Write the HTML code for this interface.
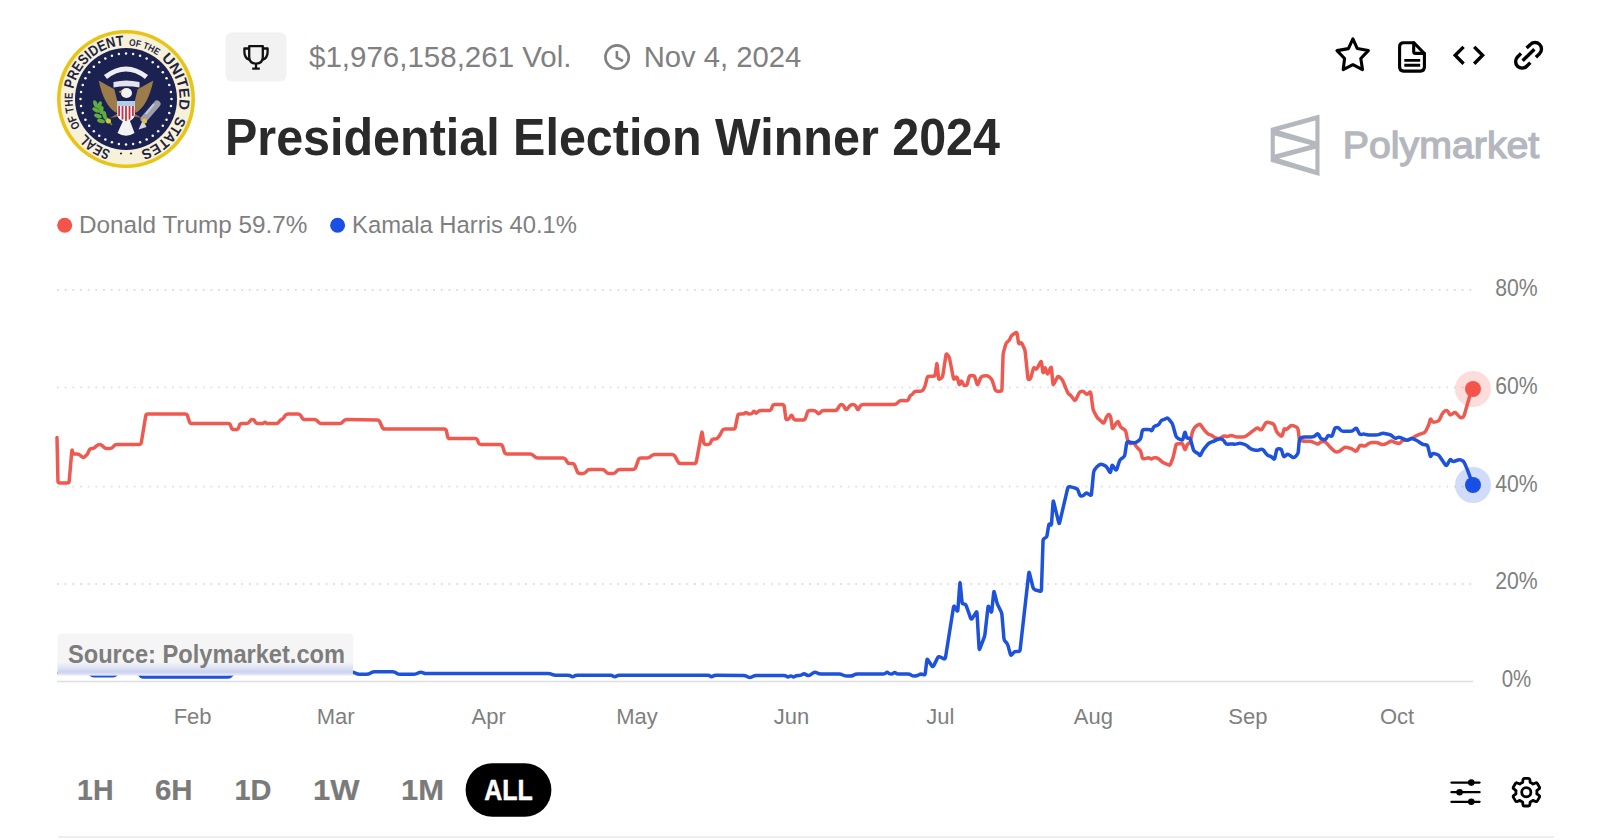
<!DOCTYPE html>
<html><head><meta charset="utf-8"><style>
html,body{margin:0;padding:0;background:#fff;width:1599px;height:840px;overflow:hidden;}
svg{display:block;position:absolute;left:0;top:0;}
text{font-family:"Liberation Sans", sans-serif;}
</style></head><body>
<svg width="1599" height="840" viewBox="0 0 1599 840">
<defs>
<path id="sealPath" d="M 126,45.5 A 53.5,53.5 0 1 1 125.99,45.5"/>
<linearGradient id="band" x1="0" y1="0" x2="0" y2="1"><stop offset="0" stop-color="#c9d1f2" stop-opacity="0"/><stop offset="0.75" stop-color="#c3cbf0" stop-opacity="0.85"/><stop offset="1" stop-color="#dfe4f7" stop-opacity="0.6"/></linearGradient>
<linearGradient id="fadeBlue" x1="0" y1="0" x2="0" y2="1">
<stop offset="0" stop-color="#f5f5f5" stop-opacity="1"/>
<stop offset="0.6" stop-color="#f5f5f5" stop-opacity="1"/>
<stop offset="1" stop-color="#e9ecf7" stop-opacity="0.6"/>
</linearGradient>
</defs>
<!-- seal -->
<g>
<circle cx="126" cy="99" r="69" fill="#e8c414"/>
<circle cx="126" cy="99" r="65.4" fill="#f8f1da"/>
<circle cx="126" cy="99" r="51" fill="#1b2150"/>
<g fill="#ffffff"><circle cx="171.50" cy="99.00" r="1.25"/><circle cx="170.94" cy="106.12" r="1.25"/><circle cx="169.27" cy="113.06" r="1.25"/><circle cx="166.54" cy="119.66" r="1.25"/><circle cx="162.81" cy="125.74" r="1.25"/><circle cx="158.17" cy="131.17" r="1.25"/><circle cx="152.74" cy="135.81" r="1.25"/><circle cx="146.66" cy="139.54" r="1.25"/><circle cx="140.06" cy="142.27" r="1.25"/><circle cx="133.12" cy="143.94" r="1.25"/><circle cx="126.00" cy="144.50" r="1.25"/><circle cx="118.88" cy="143.94" r="1.25"/><circle cx="111.94" cy="142.27" r="1.25"/><circle cx="105.34" cy="139.54" r="1.25"/><circle cx="99.26" cy="135.81" r="1.25"/><circle cx="93.83" cy="131.17" r="1.25"/><circle cx="89.19" cy="125.74" r="1.25"/><circle cx="85.46" cy="119.66" r="1.25"/><circle cx="82.73" cy="113.06" r="1.25"/><circle cx="81.06" cy="106.12" r="1.25"/><circle cx="80.50" cy="99.00" r="1.25"/><circle cx="81.06" cy="91.88" r="1.25"/><circle cx="82.73" cy="84.94" r="1.25"/><circle cx="85.46" cy="78.34" r="1.25"/><circle cx="89.19" cy="72.26" r="1.25"/><circle cx="93.83" cy="66.83" r="1.25"/><circle cx="99.26" cy="62.19" r="1.25"/><circle cx="105.34" cy="58.46" r="1.25"/><circle cx="111.94" cy="55.73" r="1.25"/><circle cx="118.88" cy="54.06" r="1.25"/><circle cx="126.00" cy="53.50" r="1.25"/><circle cx="133.12" cy="54.06" r="1.25"/><circle cx="140.06" cy="55.73" r="1.25"/><circle cx="146.66" cy="58.46" r="1.25"/><circle cx="152.74" cy="62.19" r="1.25"/><circle cx="158.17" cy="66.83" r="1.25"/><circle cx="162.81" cy="72.26" r="1.25"/><circle cx="166.54" cy="78.34" r="1.25"/><circle cx="169.27" cy="84.94" r="1.25"/><circle cx="170.94" cy="91.88" r="1.25"/></g>
<text font-family="Liberation Serif, serif" font-size="14.5" font-weight="bold" fill="#1f2446" textLength="30.8" lengthAdjust="spacingAndGlyphs"><textPath href="#sealPath" startOffset="183.0">SEAL</textPath></text><text font-family="Liberation Serif, serif" font-size="11.5" font-weight="bold" fill="#1f2446" textLength="35.5" lengthAdjust="spacingAndGlyphs"><textPath href="#sealPath" startOffset="222.2">OF THE</textPath></text><text font-family="Liberation Serif, serif" font-size="14.5" font-weight="bold" fill="#1f2446" textLength="71.9" lengthAdjust="spacingAndGlyphs"><textPath href="#sealPath" startOffset="261.5">PRESIDENT</textPath></text><text font-family="Liberation Serif, serif" font-size="9.5" font-weight="bold" fill="#1f2446" textLength="30.8" lengthAdjust="spacingAndGlyphs"><textPath href="#sealPath" startOffset="2.8">OF THE</textPath></text><text font-family="Liberation Serif, serif" font-size="14.5" font-weight="bold" fill="#1f2446" textLength="56.0" lengthAdjust="spacingAndGlyphs"><textPath href="#sealPath" startOffset="38.3">UNITED</textPath></text><text font-family="Liberation Serif, serif" font-size="14.5" font-weight="bold" fill="#1f2446" textLength="52.3" lengthAdjust="spacingAndGlyphs"><textPath href="#sealPath" startOffset="100.8">STATES</textPath></text><circle cx="121" cy="153.5" r="1.1" fill="#1f2446"/><circle cx="131" cy="153.5" r="1.1" fill="#1f2446"/>
<path d="M105.5,77 Q126,61 146.5,77" stroke="#ededf2" stroke-width="5" fill="none"/>
<path d="M113.5,82 Q126,79 139.5,82 L139.5,87.5 Q126,85 113.5,87.5 Z" fill="#e4e4ea"/>
<path d="M98.7,80.5 L114.3,89.3 L118,104 L116.5,113 Q104,106 98.7,80.5 Z" fill="#9c7d4a"/>
<path d="M153.3,80.5 L137.7,89.3 L134,104 L135.5,113 Q148,106 153.3,80.5 Z" fill="#9c7d4a"/>
<path d="M110,118 L120,112 L122,116 Z M142,118 L132,112 L130,116 Z" fill="#8a6c3c"/>
<ellipse cx="126.5" cy="93" rx="5.5" ry="5" fill="#f2f2f2"/>
<path d="M122,90 L118.5,92 L122,93 Z" fill="#e6b82a"/>
<path d="M117.2,101 L134.8,101 L134.8,114 Q134.8,120 126,122.5 Q117.2,120 117.2,114 Z" fill="#f6f6f6"/>
<rect x="117.2" y="101" width="17.6" height="5" fill="#b3cde6"/>
<g fill="#c8324a"><rect x="118.2" y="106" width="1.8" height="10"/><rect x="121.6" y="106" width="1.8" height="13.5"/><rect x="125.1" y="106" width="1.8" height="15.5"/><rect x="128.6" y="106" width="1.8" height="13.5"/><rect x="132" y="106" width="1.8" height="10"/></g>
<path d="M123,121 L130,121 L134.5,133 Q126,138.5 117.5,133 Z" fill="#f3f3f3"/>
<path d="M95,102 Q101,113 112,125" stroke="#4f9a2e" stroke-width="1.6" fill="none"/>
<g fill="#5fae3d"><ellipse cx="95.5" cy="104" rx="4" ry="2" transform="rotate(70 95.5 104)"/><ellipse cx="99.5" cy="105" rx="4" ry="2" transform="rotate(110 99.5 105)"/><ellipse cx="96" cy="110" rx="4" ry="2" transform="rotate(30 96 110)"/><ellipse cx="101.5" cy="110" rx="4" ry="2" transform="rotate(100 101.5 110)"/><ellipse cx="98" cy="116" rx="4" ry="2" transform="rotate(20 98 116)"/><ellipse cx="104.5" cy="115" rx="4" ry="2" transform="rotate(80 104.5 115)"/><ellipse cx="101" cy="121" rx="4" ry="2" transform="rotate(15 101 121)"/><ellipse cx="107" cy="120" rx="3.5" ry="1.8" transform="rotate(60 107 120)"/></g>
<path d="M157,104 L144,119" stroke="#9d9dab" stroke-width="7" stroke-linecap="round" fill="none"/>
<path d="M154,104 L146,114" stroke="#c9c9d3" stroke-width="2" fill="none"/>
<path d="M143,120 L138.5,129.5 L146.5,127 Z" fill="#d6d6dc"/>
<circle cx="108.5" cy="121" r="2.5" fill="#e2c03a"/><circle cx="144.5" cy="121" r="2.5" fill="#e2c03a"/>
</g>

<!-- trophy button -->
<rect x="225.5" y="32.5" width="61" height="49" rx="6" fill="#f2f2f2"/>
<g fill="none" stroke="#111" stroke-width="2.3" stroke-linejoin="round" stroke-linecap="butt">
<path d="M249.2,46.2 H262.8 V57 Q262.8,63.6 256,63.6 Q249.2,63.6 249.2,57 Z"/>
<path d="M249.2,48.5 H244.4 V52 Q244.4,58 249.6,60"/>
<path d="M262.8,48.5 H267.6 V52 Q267.6,58 262.4,60"/>
<path d="M256,63.6 V68.7 M252.2,68.7 H259.8"/>
</g>

<text x="309" y="67.3" font-size="30" fill="#808080" textLength="262.5" lengthAdjust="spacingAndGlyphs">$1,976,158,261 Vol.</text>
<g fill="none" stroke="#808080" stroke-width="2.6"><circle cx="617.1" cy="57.1" r="11.7"/><path d="M616.9,51 V57.5 L622.9,61.2"/></g>
<text x="643.7" y="67.4" font-size="30" fill="#808080" textLength="157.5" lengthAdjust="spacingAndGlyphs">Nov 4, 2024</text>

<text x="225" y="154.8" font-size="52" font-weight="bold" fill="#2a2a2a" textLength="775" lengthAdjust="spacingAndGlyphs">Presidential Election Winner 2024</text>

<!-- top right icons -->
<g fill="none" stroke="#000" stroke-width="3.1" stroke-linejoin="round" stroke-linecap="round">
<path d="M1352.9,38.9 L1357.3,48.6 L1368.3,50.6 L1360.8,58.5 L1362.5,69.6 L1352.9,64.7 L1343.2,69.6 L1344.6,58.5 L1337,50.6 L1348.4,48.6 Z"/>
<path d="M1413.7,42.7 H1403.6 Q1399.6,42.7 1399.6,46.7 V67.1 Q1399.6,71.1 1403.6,71.1 H1420.4 Q1424.4,71.1 1424.4,67.1 V53.5 Z"/>
<path d="M1413.7,42.7 V51.4 Q1413.7,53.4 1415.7,53.4 H1424.4"/>
</g>
<g stroke="#000" stroke-width="2.9"><path d="M1404.3,60.4 H1420.2 M1404.3,65.2 H1420.2"/></g>
<g fill="none" stroke="#000" stroke-width="3.4" stroke-linecap="butt" stroke-linejoin="miter">
<path d="M1463.6,46.9 L1455.2,55.3 L1463.6,63.7"/>
<path d="M1474.2,46.9 L1482.6,55.3 L1474.2,63.7"/>
<path d="M1526.6,47.9 L1530.4,44.4 A6.5,6.5 0 0 1 1539.6,53.6 L1535.9,57.3"/>
<path d="M1530.3,62.6 L1526.7,66.2 A6.5,6.5 0 0 1 1517.5,57 L1521,53.4"/>
<path d="M1522.6,60.8 L1534.4,49.3"/>
</g>

<!-- polymarket logo -->
<path fill="#b5b7be" fill-rule="evenodd" d="M1270.7,128 L1319.5,114.5 L1319.5,176 L1270.7,161.8 Z M1279,130.6 L1315.4,120.5 L1315.4,141.2 Z M1274.8,135.5 L1310.5,145 L1274.8,154.5 Z M1279,158.6 L1315.4,148.8 L1315.4,169.8 Z"/>
<text x="1342.8" y="158" font-size="37" fill="#b5b7be" stroke="#b5b7be" stroke-width="1.3" textLength="196.5" lengthAdjust="spacingAndGlyphs">Polymarket</text>

<!-- legend -->
<circle cx="64.7" cy="225.3" r="7.5" fill="#f5544a"/>
<text x="79" y="233.4" font-size="24.5" fill="#7f7f7f" textLength="228.5" lengthAdjust="spacingAndGlyphs">Donald Trump 59.7%</text>
<circle cx="337.6" cy="225.3" r="7.5" fill="#1a4fe6"/>
<text x="352" y="233.4" font-size="24.5" fill="#7f7f7f" textLength="225" lengthAdjust="spacingAndGlyphs">Kamala Harris 40.1%</text>

<!-- grid -->
<line x1="57" y1="290" x2="1472" y2="290" stroke="#e0e0e0" stroke-width="1.8" stroke-dasharray="1.8 5.876"/><line x1="57" y1="387.4" x2="1472" y2="387.4" stroke="#e0e0e0" stroke-width="1.8" stroke-dasharray="1.8 5.876"/><line x1="57" y1="486.6" x2="1472" y2="486.6" stroke="#e0e0e0" stroke-width="1.8" stroke-dasharray="1.8 5.876"/><line x1="57" y1="584" x2="1472" y2="584" stroke="#e0e0e0" stroke-width="1.8" stroke-dasharray="1.8 5.876"/>
<line x1="57" y1="681.5" x2="1473" y2="681.5" stroke="#dedede" stroke-width="1.6"/>

<!-- y labels -->
<g font-size="23" fill="#7f7f7f" text-anchor="middle" lengthAdjust="spacingAndGlyphs">
<text x="1516.5" y="296" textLength="42.5" lengthAdjust="spacingAndGlyphs">80%</text>
<text x="1516.5" y="393.75" textLength="42.5" lengthAdjust="spacingAndGlyphs">60%</text>
<text x="1516.5" y="491.5" textLength="42.5" lengthAdjust="spacingAndGlyphs">40%</text>
<text x="1516.5" y="589.25" textLength="42.5" lengthAdjust="spacingAndGlyphs">20%</text>
<text x="1516.5" y="687.2" textLength="29.5" lengthAdjust="spacingAndGlyphs">0%</text>
</g>

<!-- lines -->
<path d="M57.0,437.6 L57.96,481.00 Q58.00,483.00 60.00,483.00 L67.00,483.00 Q69.00,483.00 69.18,481.01 L71.82,450.99 Q72.00,449.00 72.39,450.96 L72.61,452.04 Q73.00,454.00 75.00,454.00 L77.00,454.00 Q79.00,454.00 80.41,455.41 L81.59,456.59 Q83.00,458.00 84.60,456.80 L85.40,456.20 Q87.00,455.00 87.83,453.18 L89.17,450.22 Q90.00,448.40 92.00,448.40 L92.00,448.40 Q94.00,448.40 95.41,446.99 L96.59,445.81 Q98.00,444.40 99.50,444.40 L99.50,444.40 Q101.00,444.40 102.41,445.81 L103.59,446.99 Q105.00,448.40 107.00,448.40 L110.00,448.40 Q112.00,448.40 113.20,446.80 L113.80,446.00 Q115.00,444.40 117.00,444.40 L139.00,444.40 Q141.00,444.40 141.32,442.43 L145.68,415.97 Q146.00,414.00 148.00,414.00 L185.00,414.00 Q187.00,414.00 187.60,415.91 L189.40,421.69 Q190.00,423.60 192.00,423.60 L228.00,423.60 Q230.00,423.60 230.63,425.50 L231.37,427.70 Q232.00,429.60 234.00,429.60 L236.00,429.60 Q238.00,429.60 238.63,427.70 L239.37,425.50 Q240.00,423.60 242.00,423.60 L246.00,423.60 Q248.00,423.60 249.20,422.00 L249.80,421.20 Q251.00,419.60 252.50,419.60 L252.50,419.60 Q254.00,419.60 254.89,421.39 L255.11,421.81 Q256.00,423.60 258.00,423.60 L261.00,423.60 Q263.00,423.60 264.00,422.80 L264.00,422.80 Q265.00,422.00 266.00,422.80 L266.00,422.80 Q267.00,423.60 269.00,423.60 L276.00,423.60 Q278.00,423.60 278.97,421.85 L279.03,421.75 Q280.00,420.00 281.50,419.50 L281.50,419.50 Q283.00,419.00 284.03,417.29 L284.97,415.71 Q286.00,414.00 288.00,414.00 L298.00,414.00 Q300.00,414.00 300.94,415.76 L302.06,417.84 Q303.00,419.60 305.00,419.60 L314.00,419.60 Q316.00,419.60 317.41,421.01 L318.59,422.19 Q320.00,423.60 322.00,423.60 L339.00,423.60 Q341.00,423.60 342.41,422.19 L343.59,421.01 Q345.00,419.60 347.00,419.62 L377.00,419.98 Q379.00,420.00 379.81,421.83 L382.19,427.17 Q383.00,429.00 385.00,429.00 L444.00,429.00 Q446.00,429.00 446.41,430.96 L447.59,436.64 Q448.00,438.60 450.00,438.60 L475.00,438.60 Q477.00,438.60 477.65,440.49 L478.35,442.51 Q479.00,444.40 481.00,444.40 L500.00,444.40 Q502.00,444.40 502.60,446.31 L504.40,452.09 Q505.00,454.00 507.00,454.00 L530.00,454.00 Q532.00,454.00 533.41,455.41 L534.59,456.59 Q536.00,458.00 538.00,458.00 L563.00,458.00 Q565.00,458.00 565.94,459.76 L567.06,461.84 Q568.00,463.60 570.00,463.60 L572.00,463.60 Q574.00,463.60 574.76,465.45 L577.24,471.55 Q578.00,473.40 580.00,473.40 L583.00,473.40 Q585.00,473.40 586.20,471.80 L586.80,471.00 Q588.00,469.40 590.00,469.40 L602.00,469.40 Q604.00,469.40 605.20,471.00 L605.80,471.80 Q607.00,473.40 609.00,473.40 L613.00,473.40 Q615.00,473.40 616.20,471.80 L616.80,471.00 Q618.00,469.40 620.00,469.40 L633.00,469.40 Q635.00,469.40 635.66,467.51 L638.34,459.89 Q639.00,458.00 641.00,458.00 L647.00,458.00 Q649.00,458.00 650.49,456.66 L651.51,455.74 Q653.00,454.40 655.00,454.40 L672.00,454.40 Q674.00,454.40 674.96,456.16 L678.04,461.84 Q679.00,463.60 681.00,463.60 L694.00,463.60 Q696.00,463.60 696.36,461.63 L701.64,432.97 Q702.00,431.00 702.30,432.98 L703.70,442.42 Q704.00,444.40 706.00,444.40 L708.00,444.40 Q710.00,444.40 710.69,442.52 L711.31,440.88 Q712.00,439.00 714.00,439.00 L715.00,439.00 Q717.00,439.00 718.20,437.40 L718.80,436.60 Q720.00,435.00 720.89,433.21 L722.11,430.79 Q723.00,429.00 725.00,429.00 L733.00,429.00 Q735.00,429.00 735.39,427.04 L737.61,415.96 Q738.00,414.00 740.00,414.00 L742.00,414.00 Q744.00,414.00 745.00,413.00 L745.00,413.00 Q746.00,412.00 747.00,413.00 L747.00,413.00 Q748.00,414.00 750.00,414.00 L750.00,414.00 Q752.00,414.00 752.97,412.25 L753.03,412.15 Q754.00,410.40 754.97,412.15 L755.03,412.25 Q756.00,414.00 757.28,412.46 L757.72,411.94 Q759.00,410.40 761.00,410.40 L769.00,410.40 Q771.00,410.40 771.63,408.50 L772.37,406.30 Q773.00,404.40 775.00,404.40 L782.00,404.40 Q784.00,404.40 784.25,406.38 L785.75,418.02 Q786.00,420.00 787.50,419.50 L787.50,419.50 Q789.00,419.00 789.98,417.26 L790.62,416.14 Q791.60,414.40 792.39,416.24 L793.21,418.16 Q794.00,420.00 796.00,420.00 L803.00,420.00 Q805.00,420.00 805.60,418.09 L807.40,412.31 Q808.00,410.40 810.00,410.40 L813.00,410.40 Q815.00,410.40 816.41,411.81 L817.59,412.99 Q819.00,414.40 820.20,412.80 L820.80,412.00 Q822.00,410.40 824.00,410.40 L835.00,410.40 Q837.00,410.40 837.89,408.61 L839.11,406.19 Q840.00,404.40 841.50,404.40 L841.50,404.40 Q843.00,404.40 843.89,406.19 L845.11,408.61 Q846.00,410.40 847.28,408.86 L849.72,405.94 Q851.00,404.40 853.00,404.40 L853.00,404.40 Q855.00,404.40 855.89,406.19 L857.11,408.61 Q858.00,410.40 858.89,408.61 L860.11,406.19 Q861.00,404.40 863.00,404.40 L894.00,404.40 Q896.00,404.40 897.41,402.99 L898.59,401.81 Q900.00,400.40 902.00,400.50 L906.00,400.70 Q908.00,400.80 908.72,398.93 L909.28,397.47 Q910.00,395.60 911.25,395.00 L911.25,395.00 Q912.50,394.40 913.45,392.82 L913.45,392.82 Q914.40,391.25 916.40,391.25 L920.50,391.25 Q922.50,391.25 923.39,389.46 L924.11,388.04 Q925.00,386.25 925.49,384.31 L927.01,378.19 Q927.50,376.25 929.50,376.25 L933.00,376.25 Q935.00,376.25 935.27,374.27 L936.63,364.48 Q936.90,362.50 937.11,364.49 L938.54,378.01 Q938.75,380.00 940.41,378.89 L940.84,378.61 Q942.50,377.50 942.80,375.52 L945.95,354.98 Q946.25,353.00 947.40,354.64 L948.25,355.86 Q949.40,357.50 949.78,359.46 L953.37,378.04 Q953.75,380.00 955.04,378.47 L955.61,377.78 Q956.90,376.25 957.42,378.18 L958.88,383.67 Q959.40,385.60 960.03,383.70 L960.62,381.90 Q961.25,380.00 962.07,381.83 L962.93,383.77 Q963.75,385.60 965.33,385.60 L965.33,385.60 Q966.90,385.60 967.39,383.66 L968.91,377.54 Q969.40,375.60 971.40,375.60 L972.40,375.60 Q974.40,375.60 974.99,377.51 L976.91,383.69 Q977.50,385.60 978.24,383.74 L980.51,378.11 Q981.25,376.25 983.24,376.06 L986.01,375.79 Q988.00,375.60 989.43,377.00 L990.47,378.00 Q991.90,379.40 992.50,381.31 L995.00,389.34 Q995.60,391.25 997.60,391.25 L999.90,391.25 Q1001.90,391.25 1001.96,389.25 L1003.04,355.75 Q1003.10,353.75 1003.64,351.82 L1005.71,344.43 Q1006.25,342.50 1007.83,341.55 L1007.83,341.55 Q1009.40,340.60 1010.09,338.72 L1010.56,337.48 Q1011.25,335.60 1012.92,334.50 L1015.23,333.00 Q1016.90,331.90 1017.19,333.88 L1018.46,342.42 Q1018.75,344.40 1020.00,343.15 L1020.00,343.15 Q1021.25,341.90 1022.09,343.71 L1024.16,348.19 Q1025.00,350.00 1025.21,351.99 L1027.89,378.01 Q1028.10,380.00 1029.35,379.38 L1029.35,379.38 Q1030.60,378.75 1031.11,376.82 L1033.24,368.83 Q1033.75,366.90 1035.00,368.45 L1035.00,368.45 Q1036.25,370.00 1037.19,368.23 L1040.31,362.37 Q1041.25,360.60 1041.53,362.58 L1042.82,371.77 Q1043.10,373.75 1043.63,371.82 L1044.47,368.83 Q1045.00,366.90 1045.59,368.81 L1046.91,373.09 Q1047.50,375.00 1048.21,373.13 L1048.69,371.87 Q1049.40,370.00 1050.28,368.21 L1050.37,368.04 Q1051.25,366.25 1051.44,368.24 L1052.91,383.61 Q1053.10,385.60 1053.99,383.81 L1057.21,377.39 Q1058.10,375.60 1059.51,377.01 L1061.09,378.59 Q1062.50,380.00 1063.25,381.85 L1067.35,391.90 Q1068.10,393.75 1069.35,394.38 L1069.35,394.38 Q1070.60,395.00 1071.75,396.64 L1073.85,399.61 Q1075.00,401.25 1075.89,399.46 L1079.11,393.04 Q1080.00,391.25 1081.88,391.25 L1081.88,391.25 Q1083.75,391.25 1085.04,392.78 L1085.61,393.47 Q1086.90,395.00 1088.30,393.58 L1089.20,392.67 Q1090.60,391.25 1090.86,393.23 L1092.84,408.02 Q1093.10,410.00 1094.05,411.76 L1096.55,416.34 Q1097.50,418.10 1099.03,419.39 L1099.72,419.96 Q1101.25,421.25 1102.50,422.50 L1102.50,422.50 Q1103.75,423.75 1104.49,421.89 L1105.51,419.36 Q1106.25,417.50 1107.36,415.84 L1107.64,415.41 Q1108.75,413.75 1109.67,415.00 L1109.67,415.00 Q1110.60,416.25 1110.89,418.23 L1112.21,427.42 Q1112.50,429.40 1113.49,427.66 L1114.01,426.74 Q1115.00,425.00 1116.15,423.37 L1116.95,422.23 Q1118.10,420.60 1118.78,422.48 L1119.92,425.62 Q1120.60,427.50 1122.39,428.39 L1123.81,429.11 Q1125.60,430.00 1125.97,431.96 L1127.13,438.04 Q1127.50,440.00 1128.49,441.74 L1129.01,442.66 Q1130.00,444.40 1131.55,443.15 L1131.55,443.15 Q1133.10,441.90 1134.26,443.53 L1136.34,446.47 Q1137.50,448.10 1139.05,449.35 L1139.05,449.35 Q1140.60,450.60 1141.05,452.55 L1142.05,456.80 Q1142.50,458.75 1143.75,458.75 L1143.75,458.75 Q1145.00,458.75 1146.88,458.12 L1146.88,458.12 Q1148.75,457.50 1150.00,458.45 L1150.00,458.45 Q1151.25,459.40 1152.50,458.45 L1152.50,458.45 Q1153.75,457.50 1155.73,457.77 L1156.12,457.83 Q1158.10,458.10 1159.51,459.51 L1161.09,461.09 Q1162.50,462.50 1164.37,463.21 L1165.63,463.69 Q1167.50,464.40 1168.75,465.00 L1168.75,465.00 Q1170.00,465.60 1170.71,463.73 L1172.39,459.37 Q1173.10,457.50 1173.55,455.55 L1175.80,445.70 Q1176.25,443.75 1178.12,443.75 L1178.12,443.75 Q1180.00,443.75 1181.25,443.43 L1181.25,443.43 Q1182.50,443.10 1183.13,445.00 L1184.37,448.70 Q1185.00,450.60 1185.69,448.72 L1186.81,445.63 Q1187.50,443.75 1188.75,443.43 L1188.75,443.43 Q1190.00,443.10 1190.41,441.14 L1192.09,433.21 Q1192.50,431.25 1193.50,429.52 L1194.00,428.63 Q1195.00,426.90 1196.69,425.83 L1198.31,424.82 Q1200.00,423.75 1201.11,425.42 L1202.64,427.73 Q1203.75,429.40 1205.06,430.91 L1206.79,432.89 Q1208.10,434.40 1210.00,434.70 L1210.00,434.70 Q1211.90,435.00 1213.31,436.41 L1213.59,436.69 Q1215.00,438.10 1216.98,438.36 L1218.02,438.49 Q1220.00,438.75 1221.53,437.46 L1222.22,436.89 Q1223.75,435.60 1225.62,436.25 L1225.62,436.25 Q1227.50,436.90 1229.28,436.00 L1229.47,435.90 Q1231.25,435.00 1233.03,435.90 L1233.22,436.00 Q1235.00,436.90 1237.00,436.90 L1243.00,436.90 Q1245.00,436.90 1246.59,435.69 L1248.41,434.31 Q1250.00,433.10 1251.60,431.90 L1255.90,428.70 Q1257.50,427.50 1259.04,428.77 L1259.71,429.33 Q1261.25,430.60 1262.25,428.87 L1265.25,423.63 Q1266.25,421.90 1268.19,422.38 L1271.81,423.27 Q1273.75,423.75 1274.43,425.63 L1276.22,430.62 Q1276.90,432.50 1278.40,433.82 L1280.40,435.58 Q1281.90,436.90 1282.45,434.98 L1283.85,430.02 Q1284.40,428.10 1285.33,429.05 L1285.33,429.05 Q1286.25,430.00 1287.66,428.59 L1289.84,426.41 Q1291.25,425.00 1293.12,425.71 L1294.38,426.19 Q1296.25,426.90 1297.17,427.82 L1297.17,427.82 Q1298.10,428.75 1298.33,430.74 L1299.17,438.01 Q1299.40,440.00 1301.32,440.55 L1301.83,440.70 Q1303.75,441.25 1305.75,441.25 L1309.25,441.25 Q1311.25,441.25 1313.04,442.13 L1313.21,442.22 Q1315.00,443.10 1316.88,443.75 L1316.88,443.75 Q1318.75,444.40 1319.38,443.15 L1319.38,443.15 Q1320.00,441.90 1321.98,441.64 L1323.02,441.51 Q1325.00,441.25 1326.27,442.79 L1326.83,443.46 Q1328.10,445.00 1329.51,446.41 L1333.59,450.49 Q1335.00,451.90 1336.88,451.90 L1336.88,451.90 Q1338.75,451.90 1340.31,450.65 L1343.44,448.15 Q1345.00,446.90 1346.93,447.42 L1349.97,448.23 Q1351.90,448.75 1353.52,449.92 L1354.63,450.73 Q1356.25,451.90 1357.21,450.14 L1359.04,446.76 Q1360.00,445.00 1361.94,445.49 L1363.06,445.76 Q1365.00,446.25 1366.60,445.05 L1368.40,443.70 Q1370.00,442.50 1372.00,442.50 L1375.50,442.50 Q1377.50,442.50 1379.29,443.39 L1380.71,444.11 Q1382.50,445.00 1384.37,444.29 L1385.63,443.81 Q1387.50,443.10 1389.16,441.99 L1389.59,441.71 Q1391.25,440.60 1393.03,441.50 L1393.22,441.60 Q1395.00,442.50 1396.94,442.99 L1398.06,443.26 Q1400.00,443.75 1400.95,442.18 L1400.95,442.18 Q1401.90,440.60 1403.88,440.31 L1408.02,439.69 Q1410.00,439.40 1411.73,438.39 L1415.77,436.01 Q1417.50,435.00 1419.40,434.37 L1423.10,433.13 Q1425.00,432.50 1425.89,430.71 L1427.86,426.79 Q1428.75,425.00 1429.27,423.07 L1430.08,420.03 Q1430.60,418.10 1431.39,419.94 L1431.71,420.66 Q1432.50,422.50 1434.46,422.11 L1436.79,421.64 Q1438.75,421.25 1439.59,419.43 L1441.66,414.92 Q1442.50,413.10 1443.91,411.69 L1444.19,411.41 Q1445.60,410.00 1446.85,410.62 L1446.85,410.62 Q1448.10,411.25 1448.90,413.08 L1449.20,413.77 Q1450.00,415.60 1451.61,414.41 L1453.39,413.09 Q1455.00,411.90 1456.34,413.38 L1459.26,416.62 Q1460.60,418.10 1462.17,417.50 L1462.17,417.50 Q1463.75,416.90 1464.30,414.98 L1469.45,396.92 Q1470.00,395.00 1470.89,393.21 L1473.0,389.0" fill="none" stroke="#ee5a50" stroke-width="3.5" stroke-linejoin="round" stroke-linecap="round"/>
<path d="M59.0,673.0 L88.00,673.00 Q90.00,673.00 91.00,674.40 L91.00,674.40 Q92.00,675.80 94.00,675.80 L113.00,675.80 Q115.00,675.80 116.00,674.40 L116.00,674.40 Q117.00,673.00 119.00,673.00 L137.00,673.00 Q139.00,673.00 139.89,674.79 L140.11,675.21 Q141.00,677.00 143.00,677.00 L228.00,677.00 Q230.00,677.00 231.20,675.40 L231.80,674.60 Q233.00,673.00 235.00,672.99 L352.00,672.21 Q354.00,672.20 355.71,673.23 L355.79,673.27 Q357.50,674.30 359.50,674.30 L366.60,674.30 Q368.60,674.30 370.31,673.26 L370.99,672.84 Q372.70,671.80 374.70,671.80 L392.70,671.80 Q394.70,671.80 396.31,672.98 L396.49,673.12 Q398.10,674.30 400.10,674.30 L413.30,674.30 Q415.30,674.30 417.12,673.47 L418.98,672.63 Q420.80,671.80 422.64,672.59 L423.16,672.81 Q425.00,673.60 427.00,673.60 L548.00,673.40 Q550.00,673.40 551.79,674.29 L552.01,674.41 Q553.80,675.30 555.80,675.30 L567.80,675.30 Q569.80,675.30 571.20,676.25 L571.20,676.25 Q572.60,677.20 574.00,676.25 L574.00,676.25 Q575.40,675.30 577.40,675.30 L610.00,675.30 Q612.00,675.30 613.40,676.25 L613.40,676.25 Q614.80,677.20 616.20,676.25 L616.20,676.25 Q617.60,675.30 619.60,675.30 L707.50,675.30 Q709.50,675.30 710.45,676.25 L710.45,676.25 Q711.40,677.20 712.80,676.25 L712.80,676.25 Q714.20,675.30 716.20,675.31 L743.40,675.39 Q745.40,675.40 746.80,676.45 L746.80,676.45 Q748.20,677.50 749.90,677.50 L749.90,677.50 Q751.60,677.50 753.00,676.45 L753.00,676.45 Q754.40,675.40 756.40,675.40 L783.30,675.40 Q785.30,675.40 786.70,676.45 L786.70,676.45 Q788.10,677.50 789.45,676.45 L789.45,676.45 Q790.80,675.40 792.20,676.45 L792.20,676.45 Q793.60,677.50 794.95,676.45 L794.95,676.45 Q796.30,675.40 798.30,675.40 L799.20,675.40 Q801.20,675.40 802.55,674.40 L802.55,674.40 Q803.90,673.40 805.64,674.38 L806.96,675.12 Q808.70,676.10 810.33,674.94 L813.27,672.86 Q814.90,671.70 816.63,672.71 L817.27,673.09 Q819.00,674.10 821.00,674.10 L839.00,674.10 Q841.00,674.10 842.81,674.96 L843.39,675.24 Q845.20,676.10 847.20,676.10 L850.00,676.10 Q852.00,676.10 853.74,675.11 L853.76,675.09 Q855.50,674.10 857.50,674.10 L883.00,674.10 Q885.00,674.10 886.05,672.90 L886.05,672.90 Q887.10,671.70 888.15,672.90 L888.15,672.90 Q889.20,674.10 890.90,674.10 L890.90,674.10 Q892.60,674.10 893.65,673.05 L893.65,673.05 Q894.70,672.00 895.75,673.05 L895.75,673.05 Q896.80,674.10 898.80,674.10 L907.80,674.10 Q909.80,674.10 911.20,675.10 L911.20,675.10 Q912.60,676.10 914.60,676.10 L914.70,676.10 Q916.70,676.10 918.43,675.09 L919.07,674.71 Q920.80,673.70 922.65,674.45 L923.15,674.65 Q925.00,675.40 925.25,673.42 L926.85,660.38 Q927.10,658.40 928.17,660.09 L931.73,665.71 Q932.80,667.40 933.70,665.61 L937.60,657.89 Q938.50,656.10 940.28,657.01 L943.42,658.59 Q945.20,659.50 945.51,657.52 L953.49,607.18 Q953.80,605.20 954.80,606.93 L956.70,610.27 Q957.70,612.00 957.85,610.01 L959.85,583.39 Q960.00,581.40 960.19,583.39 L962.01,602.01 Q962.20,604.00 963.90,604.00 L963.90,604.00 Q965.60,604.00 966.27,605.88 L970.63,618.12 Q971.30,620.00 972.35,618.30 L975.85,612.60 Q976.90,610.90 977.02,612.90 L979.08,648.50 Q979.20,650.50 979.91,648.63 L984.09,637.57 Q984.80,635.70 985.02,633.71 L987.98,607.19 Q988.20,605.20 988.99,607.04 L990.81,611.26 Q991.60,613.10 991.80,611.11 L993.70,592.49 Q993.90,590.50 994.39,592.44 L996.81,602.06 Q997.30,604.00 998.19,605.79 L1000.91,611.31 Q1001.80,613.10 1001.97,615.09 L1003.93,638.31 Q1004.10,640.30 1005.51,641.71 L1006.09,642.29 Q1007.50,643.70 1008.03,645.63 L1010.37,654.17 Q1010.90,656.10 1012.09,654.50 L1013.06,653.20 Q1014.25,651.60 1016.25,651.60 L1017.90,651.60 Q1019.90,651.60 1020.13,649.61 L1028.77,573.29 Q1029.00,571.30 1029.48,573.24 L1033.02,587.46 Q1033.50,589.40 1035.43,589.94 L1039.47,591.06 Q1041.40,591.60 1041.46,589.60 L1043.04,540.80 Q1043.10,538.80 1044.90,538.20 L1044.90,538.20 Q1046.70,537.60 1047.02,535.63 L1048.68,525.27 Q1049.00,523.30 1050.20,524.50 L1050.20,524.50 Q1051.40,525.70 1051.54,523.70 L1053.06,502.10 Q1053.20,500.10 1053.68,502.04 L1058.72,522.56 Q1059.20,524.50 1059.65,522.55 L1067.65,488.35 Q1068.10,486.40 1069.90,486.70 L1069.90,486.70 Q1071.70,487.00 1073.61,487.58 L1075.69,488.22 Q1077.60,488.80 1078.23,490.70 L1079.37,494.10 Q1080.00,496.00 1081.80,496.00 L1081.80,496.00 Q1083.60,496.00 1084.71,494.34 L1084.89,494.06 Q1086.00,492.40 1087.65,493.52 L1089.65,494.88 Q1091.30,496.00 1091.49,494.01 L1093.51,472.99 Q1093.70,471.00 1094.86,469.37 L1095.54,468.43 Q1096.70,466.80 1098.31,465.62 L1099.19,464.98 Q1100.80,463.80 1102.63,464.61 L1104.37,465.39 Q1106.20,466.20 1107.22,467.92 L1109.38,471.58 Q1110.40,473.30 1110.78,471.34 L1111.72,466.36 Q1112.10,464.40 1113.17,466.09 L1115.23,469.31 Q1116.30,471.00 1116.90,469.09 L1119.30,461.51 Q1119.90,459.60 1121.60,458.55 L1122.90,457.75 Q1124.60,456.70 1124.89,454.72 L1126.61,443.23 Q1126.90,441.25 1128.82,441.80 L1129.33,441.95 Q1131.25,442.50 1133.12,442.80 L1133.12,442.80 Q1135.00,443.10 1136.67,442.00 L1138.93,440.50 Q1140.60,439.40 1140.97,437.44 L1142.13,431.36 Q1142.50,429.40 1144.50,429.40 L1148.00,429.40 Q1150.00,429.40 1150.95,430.32 L1150.95,430.32 Q1151.90,431.25 1152.59,429.37 L1153.06,428.13 Q1153.75,426.25 1155.69,425.76 L1156.81,425.49 Q1158.75,425.00 1159.64,423.21 L1160.36,421.79 Q1161.25,420.00 1163.12,419.70 L1163.12,419.70 Q1165.00,419.40 1166.25,418.45 L1166.25,418.45 Q1167.50,417.50 1168.75,419.06 L1171.25,422.19 Q1172.50,423.75 1173.03,425.68 L1175.72,435.57 Q1176.25,437.50 1178.04,438.39 L1180.71,439.71 Q1182.50,440.60 1183.02,438.67 L1184.48,433.18 Q1185.00,431.25 1185.49,433.19 L1186.41,436.81 Q1186.90,438.75 1188.45,438.12 L1188.45,438.12 Q1190.00,437.50 1190.53,439.43 L1193.22,449.32 Q1193.75,451.25 1195.54,452.14 L1196.96,452.86 Q1198.75,453.75 1199.38,455.00 L1199.38,455.00 Q1200.00,456.25 1200.89,454.46 L1202.21,451.79 Q1203.10,450.00 1204.37,448.45 L1207.48,444.65 Q1208.75,443.10 1210.63,442.41 L1211.87,441.94 Q1213.75,441.25 1215.54,440.36 L1216.96,439.64 Q1218.75,438.75 1220.73,439.05 L1221.12,439.10 Q1223.10,439.40 1224.17,441.09 L1225.18,442.71 Q1226.25,444.40 1228.23,444.14 L1229.27,444.01 Q1231.25,443.75 1233.12,444.07 L1233.12,444.07 Q1235.00,444.40 1236.94,443.90 L1238.06,443.60 Q1240.00,443.10 1241.91,443.68 L1244.34,444.42 Q1246.25,445.00 1247.75,446.32 L1249.75,448.08 Q1251.25,449.40 1253.21,449.78 L1255.54,450.22 Q1257.50,450.60 1259.38,449.91 L1260.62,449.44 Q1262.50,448.75 1263.68,450.37 L1266.32,453.98 Q1267.50,455.60 1269.38,455.93 L1269.38,455.93 Q1271.25,456.25 1272.54,457.78 L1273.11,458.47 Q1274.40,460.00 1274.83,458.05 L1276.47,450.70 Q1276.90,448.75 1278.90,448.75 L1279.25,448.75 Q1281.25,448.75 1281.80,450.67 L1283.20,455.58 Q1283.75,457.50 1285.16,456.09 L1286.09,455.16 Q1287.50,453.75 1289.14,454.89 L1292.11,456.96 Q1293.75,458.10 1295.16,456.69 L1296.69,455.16 Q1298.10,453.75 1298.27,451.76 L1299.23,440.74 Q1299.40,438.75 1300.95,437.82 L1300.95,437.82 Q1302.50,436.90 1304.50,436.90 L1311.75,436.90 Q1313.75,436.90 1315.26,435.58 L1316.59,434.42 Q1318.10,433.10 1318.91,434.93 L1319.79,436.92 Q1320.60,438.75 1322.54,439.24 L1323.66,439.51 Q1325.60,440.00 1326.49,438.21 L1327.21,436.79 Q1328.10,435.00 1329.89,435.89 L1330.11,436.01 Q1331.90,436.90 1332.53,435.00 L1334.37,429.40 Q1335.00,427.50 1336.88,427.50 L1336.88,427.50 Q1338.75,427.50 1339.86,429.16 L1340.14,429.59 Q1341.25,431.25 1343.25,431.25 L1350.50,431.25 Q1352.50,431.25 1353.91,429.84 L1354.84,428.91 Q1356.25,427.50 1357.14,429.29 L1359.11,433.21 Q1360.00,435.00 1361.88,434.38 L1361.88,434.38 Q1363.75,433.75 1365.33,434.38 L1365.33,434.38 Q1366.90,435.00 1368.90,435.00 L1375.50,435.00 Q1377.50,435.00 1379.37,434.29 L1380.63,433.81 Q1382.50,433.10 1384.45,433.52 L1389.30,434.58 Q1391.25,435.00 1392.66,436.41 L1393.59,437.34 Q1395.00,438.75 1396.79,437.87 L1396.96,437.78 Q1398.75,436.90 1400.59,437.68 L1405.66,439.82 Q1407.50,440.60 1409.16,439.49 L1409.59,439.21 Q1411.25,438.10 1413.12,438.81 L1414.38,439.29 Q1416.25,440.00 1417.89,441.15 L1420.86,443.25 Q1422.50,444.40 1424.49,444.64 L1425.51,444.76 Q1427.50,445.00 1427.98,446.94 L1430.12,455.56 Q1430.60,457.50 1431.39,455.66 L1431.71,454.94 Q1432.50,453.10 1434.41,453.68 L1436.84,454.42 Q1438.75,455.00 1439.86,456.66 L1445.14,464.59 Q1446.25,466.25 1447.25,464.52 L1449.60,460.48 Q1450.60,458.75 1451.55,460.32 L1451.55,460.32 Q1452.50,461.90 1454.40,461.27 L1458.10,460.03 Q1460.00,459.40 1461.79,460.28 L1461.96,460.37 Q1463.75,461.25 1464.54,463.09 L1466.71,468.16 Q1467.50,470.00 1468.19,471.88 L1473.0,485.0" fill="none" stroke="#1d52da" stroke-width="3.5" stroke-linejoin="round" stroke-linecap="round"/>
<circle cx="1473" cy="389" r="18" fill="#f5544a" fill-opacity="0.2"/>
<circle cx="1473" cy="389" r="8" fill="#f5544a"/>
<circle cx="1473" cy="485" r="18" fill="#1a4fe6" fill-opacity="0.2"/>
<circle cx="1473" cy="485" r="8" fill="#1a4fe6"/>

<!-- source box -->
<rect x="57.5" y="633.5" width="295.5" height="42" rx="4" fill="#f5f5f5"/>
<rect x="57.5" y="662" width="295.5" height="13.5" fill="url(#band)"/>
<text x="68" y="662.8" font-size="25" font-weight="bold" fill="#7d7d7d" textLength="277" lengthAdjust="spacingAndGlyphs">Source: Polymarket.com</text>

<!-- x labels -->
<g font-size="22" fill="#7f7f7f" text-anchor="middle">
<text x="192.6" y="723.7">Feb</text>
<text x="335.7" y="723.7">Mar</text>
<text x="488.6" y="723.7">Apr</text>
<text x="637" y="723.7">May</text>
<text x="791.4" y="723.7">Jun</text>
<text x="940.3" y="723.7">Jul</text>
<text x="1093.3" y="723.7">Aug</text>
<text x="1247.8" y="723.7">Sep</text>
<text x="1397" y="723.7">Oct</text>
</g>

<!-- time buttons -->
<g font-size="30.2" font-weight="bold" fill="#7a7a7a" stroke="#7a7a7a" stroke-width="0.2">
<text x="77" y="800" textLength="36.5" lengthAdjust="spacingAndGlyphs">1H</text>
<text x="155" y="800" textLength="37.5" lengthAdjust="spacingAndGlyphs">6H</text>
<text x="234.5" y="800" textLength="37" lengthAdjust="spacingAndGlyphs">1D</text>
<text x="313" y="800" textLength="46.5" lengthAdjust="spacingAndGlyphs">1W</text>
<text x="401" y="800" textLength="43" lengthAdjust="spacingAndGlyphs">1M</text>
</g>
<rect x="465.6" y="763.3" width="85.8" height="53.4" rx="26.7" fill="#000"/>
<text x="484.2" y="800" font-size="30.2" font-weight="bold" fill="#fff" stroke="#fff" stroke-width="0.5" textLength="48.5" lengthAdjust="spacingAndGlyphs">ALL</text>

<!-- sliders -->
<g stroke="#000" stroke-width="2.2" stroke-linecap="round"><path d="M1451.4,782.6 H1479.6 M1451.4,792.2 H1479.6 M1451.4,801.8 H1479.6"/></g>
<g fill="#000"><circle cx="1471.3" cy="782.6" r="3.3"/><circle cx="1459.6" cy="792.2" r="3.3"/><circle cx="1471.3" cy="801.8" r="3.3"/></g>
<!-- gear -->
<g fill="none" stroke="#000" stroke-width="2.8" stroke-linejoin="round">
<path d="M1522.64,782.40 L1522.94,779.68 Q1523.09,778.39 1524.39,778.39 L1528.41,778.39 Q1529.71,778.39 1529.86,779.68 L1530.16,782.40 A10.5,10.5 0 0 1 1533.01,784.04 L1535.51,782.95 Q1536.70,782.43 1537.35,783.55 L1539.37,787.04 Q1540.02,788.17 1538.97,788.94 L1536.77,790.56 A10.5,10.5 0 0 1 1536.77,793.84 L1538.97,795.46 Q1540.02,796.23 1539.37,797.36 L1537.35,800.85 Q1536.70,801.97 1535.51,801.45 L1533.01,800.36 A10.5,10.5 0 0 1 1530.16,802.00 L1529.86,804.72 Q1529.71,806.01 1528.41,806.01 L1524.39,806.01 Q1523.09,806.01 1522.94,804.72 L1522.64,802.00 A10.5,10.5 0 0 1 1519.79,800.36 L1517.29,801.45 Q1516.10,801.97 1515.45,800.85 L1513.43,797.36 Q1512.78,796.23 1513.83,795.46 L1516.03,793.84 A10.5,10.5 0 0 1 1516.03,790.56 L1513.83,788.94 Q1512.78,788.17 1513.43,787.04 L1515.45,783.55 Q1516.10,782.43 1517.29,782.95 L1519.79,784.04 A10.5,10.5 0 0 1 1522.64,782.40 Z"/>
<circle cx="1526.3" cy="792.2" r="4.6"/>
</g>

<line x1="58" y1="837" x2="1554" y2="837" stroke="#efefef" stroke-width="2"/>
</svg>
</body></html>
